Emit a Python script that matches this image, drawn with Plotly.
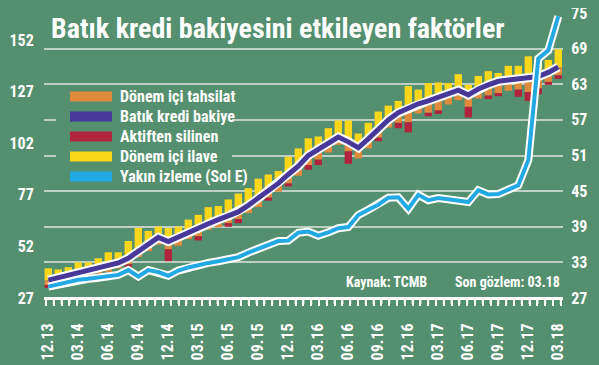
import plotly.graph_objects as go

# ---------------- data ----------------
# monthly, 12.13 ... 03.18  (52 months)
batik_kredi = [30.0, 30.4, 30.8, 31.1, 31.5, 31.9, 32.3, 32.9, 33.7, 34.9,
               36.0, 37.2, 36.5, 37.3, 38.0, 38.8, 39.5, 40.2, 40.8, 41.5,
               42.6, 43.8, 45.2, 46.3, 47.8, 49.2, 51.0, 52.0, 53.0, 54.1,
               53.3, 52.3, 53.8, 55.5, 57.0, 58.2, 59.0, 59.7, 60.2, 60.8,
               61.4, 62.0, 61.2, 62.2, 62.9, 63.5, 63.7, 63.9, 64.1, 64.3,
               65.0, 65.9]
donem_ici_ilave = [2.0, 1.4, 1.4, 1.9, 1.5, 1.8, 2.4, 1.8, 2.9, 3.9,
                   2.3, 1.8, 2.3, 1.7, 2.2, 2.2, 2.8, 2.3, 2.8, 3.1,
                   2.9, 3.3, 2.6, 2.1, 3.0, 3.0, 2.9, 2.2, 2.6, 2.8,
                   3.6, 2.4, 2.7, 2.9, 2.4, 2.0, 3.7, 2.4, 3.0, 2.5,
                   1.8, 2.7, 1.7, 2.2, 2.3, 1.4, 2.4, 2.2, 3.6, 2.5,
                   2.1, 3.0]
donem_ici_tahsilat = [0.8, 0.8, 0.8, 0.8, 0.8, 0.8, 0.9, 0.9, 1.0, 1.0,
                      1.1, 1.2, 1.3, 1.5, 1.1, 1.4, 1.0, 1.3, 1.2, 1.2,
                      1.3, 1.5, 1.3, 1.4, 1.5, 1.6, 1.6, 1.7, 1.5, 1.3,
                      1.6, 1.8, 1.6, 1.5, 1.3, 1.7, 2.4, 1.6, 2.0, 2.2,
                      1.8, 1.7, 2.0, 1.6, 1.8, 2.0, 1.8, 1.8, 2.4, 2.0,
                      1.6, 1.4]
aktiften_silinen = [0.5, 0.0, 0.0, 0.0, 0.0, 0.0, 0.0, 0.0, 0.5, 0.0,
                    0.0, 0.0, 2.0, 0.0, 0.0, 0.7, 0.0, 0.0, 0.6, 0.7,
                    0.0, 0.0, 0.5, 0.0, 0.5, 0.0, 0.8, 0.9, 0.0, 0.0,
                    2.1, 0.0, 0.0, 0.6, 0.0, 0.9, 1.7, 0.0, 0.6, 0.6,
                    0.0, 0.0, 1.8, 0.0, 0.6, 0.5, 0.0, 1.2, 1.5, 1.0,
                    0.5, 0.6]
yakin_izleme = [32.5, 33.6, 34.5, 35.8, 36.3, 36.8, 37.4, 38.2, 40.5, 37.4,
                40.5, 39.6, 37.8, 40.3, 41.8, 43.0, 44.0, 44.8, 45.6, 46.8,
                49.0, 50.8, 52.6, 54.6, 54.8, 58.6, 59.2, 57.2, 58.8, 60.8,
                61.4, 67.2, 69.8, 72.2, 75.6, 75.8, 70.2, 77.0, 74.4, 75.4,
                74.9, 74.3, 73.5, 79.2, 77.2, 77.4, 79.5, 81.6, 93.8, 143.0,
                147.0, 163.5]
tick_labels = ["12.13", "03.14", "06.14", "09.14", "12.14", "03.15", "06.15",
               "09.15", "12.15", "03.16", "06.16", "09.16", "12.16", "03.17",
               "06.17", "09.17", "12.17", "03.18"]
left_ticks = [27, 52, 77, 102, 127, 152]
right_ticks = [27, 33, 39, 45, 51, 57, 63, 69, 75]
legend_names = ["Dönem içi tahsilat", "Batık kredi bakiye", "Aktiften silinen",
                "Dönem içi ilave", "Yakın izleme (Sol E)"]

# ---------------- styling ----------------
BG = "#548f6f"
YELLOW = "#fcd61a"
ORANGE = "#df8a3d"
RED = "#b0243d"
PURPLE = "#47389a"
BLUE = "#22a8e2"
GRID = "rgba(225,230,225,0.75)"
FONT = "Liberation Sans Narrow, Roboto Condensed, Arial Narrow, DejaVu Sans Condensed, sans-serif"

n = len(batik_kredi)
x = list(range(n))
tick_pos = list(range(0, n, 3))
X_MIN, X_MAX = -0.43, 51.47
MINOR_START, MINOR_STEP = -0.23, 0.78

orange_base = [b - c for b, c in zip(batik_kredi, donem_ici_tahsilat)]
red_base = [b - c - w for b, c, w in zip(batik_kredi, donem_ici_tahsilat, aktiften_silinen)]

fig = go.Figure()
BW = 0.74
fig.add_trace(go.Bar(x=x, y=donem_ici_ilave, base=batik_kredi, width=BW,
                     marker=dict(color=YELLOW, line=dict(width=0)),
                     name=legend_names[3], yaxis="y"))
fig.add_trace(go.Bar(x=x, y=donem_ici_tahsilat, base=orange_base, width=BW,
                     marker=dict(color=ORANGE, line=dict(width=0)),
                     name=legend_names[0], yaxis="y"))
fig.add_trace(go.Bar(x=x, y=aktiften_silinen, base=red_base, width=BW,
                     marker=dict(color=RED, line=dict(width=0)),
                     name=legend_names[2], yaxis="y"))
fig.add_trace(go.Scatter(x=x, y=batik_kredi, mode="lines", yaxis="y",
                         line=dict(color="white", width=9), hoverinfo="skip"))
fig.add_trace(go.Scatter(x=x, y=batik_kredi, mode="lines", yaxis="y",
                         line=dict(color=PURPLE, width=5), name=legend_names[1]))
fig.add_trace(go.Scatter(x=x, y=yakin_izleme, mode="lines", yaxis="y2",
                         line=dict(color="white", width=8), hoverinfo="skip"))
fig.add_trace(go.Scatter(x=x, y=yakin_izleme, mode="lines", yaxis="y2",
                         line=dict(color=BLUE, width=4), name=legend_names[4]))

tickfont = dict(family=FONT, size=16, color="white", weight="bold")

# the page body keeps its default 8px offset, so margins are shifted by 8px
fig.update_layout(
    template="none",
    width=599, height=365,
    margin=dict(l=36, r=44, t=5, b=75, autoexpand=False),
    paper_bgcolor=BG, plot_bgcolor=BG,
    barmode="overlay", showlegend=False,
    font=dict(family=FONT, color="white"),
    xaxis=dict(range=[X_MIN, X_MAX], tickmode="array", tickvals=tick_pos,
               ticktext=tick_labels, tickangle=-90, tickfont=tickfont,
               ticks="outside", ticklen=17, tickwidth=1,
               tickcolor="rgba(0,0,0,0)", automargin=False,
               minor=dict(ticks="outside", ticklen=6, tickwidth=2,
                          tickcolor="white", tickmode="linear",
                          tick0=MINOR_START, dtick=MINOR_STEP, showgrid=False),
               showline=True, linecolor="white", linewidth=2,
               showgrid=False, zeroline=False),
    yaxis=dict(side="right", range=[27, 75], tickmode="array",
               tickvals=right_ticks, tickfont=tickfont, automargin=False,
               ticklabeloverflow="allow",
               showgrid=True, gridcolor=GRID, gridwidth=1.5,
               ticks="outside", ticklen=4, tickcolor="rgba(0,0,0,0)",
               zeroline=False, showline=False),
    yaxis2=dict(overlaying="y", side="left", range=[27, 165.1],
                tickmode="array", tickvals=left_ticks, tickfont=tickfont,
                ticklabeloverflow="allow",
                showgrid=False, zeroline=False, showline=False, automargin=False,
                ticks="outside", ticklen=6, tickcolor="rgba(0,0,0,0)"),
)

# ---------------- custom legend (screen-pixel helpers) ----------------
PL, PR, PT, PB = 44, 563, 13, 298
def px(v):
    return (v - PL) / (PR - PL)
def py(v):
    return (PB - v) / (PB - PT)

shapes = [dict(type="rect", xref="paper", yref="paper", layer="above",
               x0=px(56), x1=px(232), y0=py(188), y1=py(86),
               fillcolor=BG, line=dict(width=0))]

# x-axis base line and tick comb (decoration, follows the minor-tick spacing)
shapes.append(dict(type="line", xref="paper", yref="paper", layer="above",
                   x0=0, x1=1, y0=0, y1=0, line=dict(color="white", width=2)))
k = 0
while MINOR_START + k * MINOR_STEP <= X_MAX:
    tx = MINOR_START + k * MINOR_STEP
    shapes.append(dict(type="line", xref="x", yref="paper", layer="above",
                       x0=tx, x1=tx, y0=0, y1=-6 / (PB - PT),
                       line=dict(color="white", width=2)))
    k += 1

swatch_colors = [ORANGE, PURPLE, RED, YELLOW, BLUE]
annotations = []
for k, (name, col) in enumerate(zip(legend_names, swatch_colors)):
    cy = 96.5 + 20 * k
    shapes.append(dict(type="rect", xref="paper", yref="paper", layer="above",
                       x0=px(70), x1=px(112), y0=py(cy + 5), y1=py(cy - 5),
                       fillcolor=col, line=dict(width=0)))
    annotations.append(dict(xref="paper", yref="paper", x=px(118), y=py(cy),
                            xanchor="left", yanchor="middle", showarrow=False,
                            text=name, font=dict(family=FONT, size=16,
                                                 color="white", weight="bold")))

annotations.append(dict(xref="paper", yref="paper", x=px(49), y=py(28),
                        xanchor="left", yanchor="middle", showarrow=False,
                        text="Batık kredi bakiyesini etkileyen faktörler",
                        font=dict(family=FONT, size=28, color="white",
                                  weight="bold")))
annotations.append(dict(xref="paper", yref="paper", x=px(344), y=py(282),
                        xanchor="left", yanchor="middle", showarrow=False,
                        text="Kaynak: TCMB",
                        font=dict(family=FONT, size=14, color="white",
                                  weight="bold")))
annotations.append(dict(xref="paper", yref="paper", x=px(562), y=py(282),
                        xanchor="right", yanchor="middle", showarrow=False,
                        text="Son gözlem: 03.18",
                        font=dict(family=FONT, size=14, color="white",
                                  weight="bold")))

fig.update_layout(shapes=shapes, annotations=annotations)
fig.write_html(
    "out.html",
    config={"displayModeBar": False},
    post_script=("document.documentElement.style.background='" + BG + "';"
                 "document.body.style.background='" + BG + "';"),
)
